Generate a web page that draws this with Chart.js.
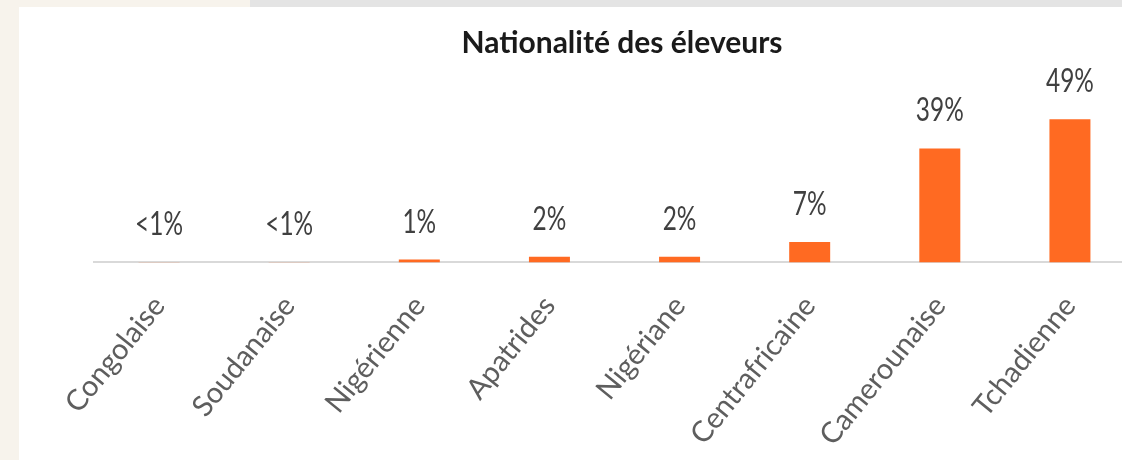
<!DOCTYPE html>
<html>
<head>
<meta charset="utf-8">
<script src="https://cdn.jsdelivr.net/npm/chart.js@4/dist/chart.umd.min.js"></script>
<style>
  html, body { margin: 0; padding: 0; overflow: hidden; }
  body { width: 1122px; height: 460px; background: #f7f3ec; position: relative; }
  .topbar { position: absolute; left: 250px; top: 0; width: 872px; height: 7px; background: #e4e4e4; }
  .panel { position: absolute; left: 19px; top: 7px; width: 1103px; height: 453px; background: #fff; overflow: hidden; }
  #chart { position: absolute; left: 0; top: 0; }
</style>
</head>
<body>
<div class="topbar"></div>
<div class="panel"><canvas id="chart" width="1131" height="464"></canvas></div>
<script>
const nationalites = ['Congolaise', 'Soudanaise', 'Nigérienne', 'Apatrides', 'Nigériane', 'Centrafricaine', 'Camerounaise', 'Tchadienne'];
const parts = [0.1, 0.1, 1, 2, 2, 7, 39, 49];
const etiquettes = ['<1%', '<1%', '1%', '2%', '2%', '7%', '39%', '49%'];

// valeurs au-dessus des barres (police étroite simulée)
const valeurs = {
  id: 'valeurs',
  afterDatasetsDraw(chart) {
    const ctx = chart.ctx;
    const meta = chart.getDatasetMeta(0);
    ctx.save();
    ctx.font = '33px Lato, sans-serif';
    ctx.fillStyle = '#404040';
    ctx.textAlign = 'center';
    ctx.textBaseline = 'alphabetic';
    meta.data.forEach((bar, i) => {
      ctx.save();
      ctx.translate(bar.x, bar.y - 27);
      ctx.scale(0.74, 1);
      ctx.fillText(etiquettes[i], 0, 0);
      ctx.restore();
    });
    ctx.restore();
  }
};

const ctx = document.getElementById('chart').getContext('2d');
let myChart = new Chart(ctx, {
  type: 'bar',
  data: {
    labels: nationalites,
    datasets: [{
      data: parts,
      backgroundColor: '#FF6A22',
      barPercentage: 0.315,
      categoryPercentage: 1
    }]
  },
  options: {
    responsive: false,
    animation: false,
    layout: { padding: { left: 75, right: 0, top: 0, bottom: 0 } },
    plugins: {
      legend: { display: false },
      tooltip: { enabled: false },
      title: {
        display: true,
        text: 'Nationalité des éleveurs',
        color: '#1a1a1a',
        font: { family: 'Lato', size: 30, weight: 'bold' },
        padding: { top: 18, bottom: 26 }
      }
    },
    scales: {
      x: {
        grid: { display: false },
        border: { display: true, color: '#d9d9d9', width: 2 },
        ticks: {
          color: '#5e5e5e',
          font: { family: 'Lato', size: 29 },
          minRotation: 51,
          maxRotation: 51,
          padding: 19
        }
      },
      y: {
        position: 'right',
        min: 0,
        max: 60,
        grid: { display: false },
        border: { display: false },
        ticks: { display: false },
        afterFit(scale) { scale.width = 15; }
      }
    }
  },
  plugins: [valeurs]
});
</script>
</body>
</html>
